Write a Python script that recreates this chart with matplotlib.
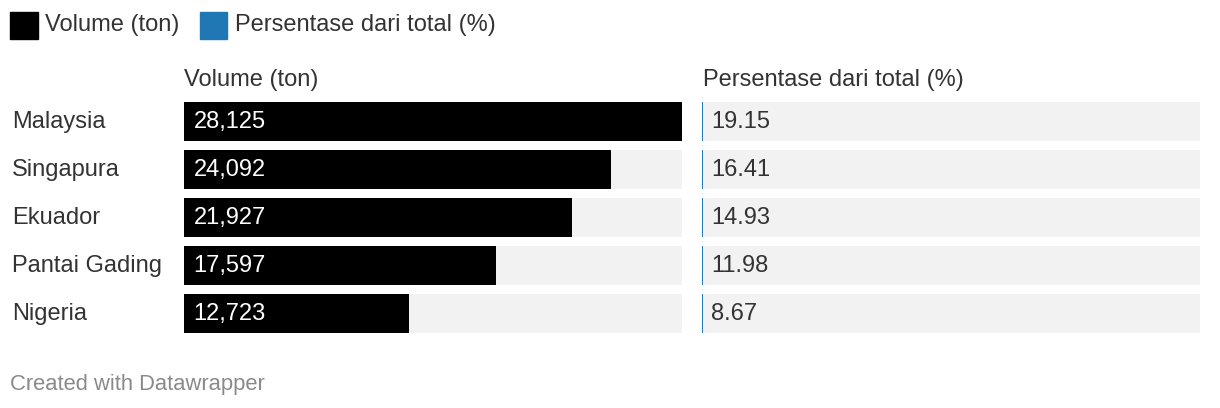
# bar table in the Datawrapper style: volume bars and percentage column

import matplotlib.pyplot as plt

countries = ['Malaysia', 'Singapura', 'Ekuador', 'Pantai Gading', 'Nigeria']
volume = [28125, 24092, 21927, 17597, 12723]
persen = [19.15, 16.41, 14.93, 11.98, 8.67]

vol_label = 'Volume (ton)'
pct_label = 'Persentase dari total (%)'

plt.rcParams['font.family'] = ['Liberation Sans', 'DejaVu Sans']
txt = '#333333'
grey_bg = '#f2f2f2'
blue = '#1f77b4'
W, H = 1220, 408
fs = 17

fig = plt.figure(figsize=(W / 100, H / 100), dpi=100)

def axes_px(x0, x1, y0, y1):
    # pixel box (top-left origin) -> figure axes
    return fig.add_axes([x0 / W, 1 - y1 / H, (x1 - x0) / W, (y1 - y0) / H])

rows = range(len(countries))
vmax = max(volume)
h = 0.81
pad = vmax * 9.5 / 498   # text inset in the bars
base = 6.5 / 48          # baseline below row centre

ax1 = axes_px(184, 682, 97.5, 337.5)
ax1.barh(rows, [vmax] * len(volume), height=h, color=grey_bg)
ax1.barh(rows, volume, height=h, color='black')
for i, v in enumerate(volume):
    ax1.text(pad, i + base, f'{v:,}', color='white', fontsize=fs,
             va='baseline', ha='left')

ax2 = axes_px(702, 1200, 97.5, 337.5)
ax2.barh(rows, [vmax] * len(persen), height=h, color=grey_bg)
# same scale as volume, so the bars are only a thin line
ax2.barh(rows, persen, height=h, color=blue, edgecolor=blue, linewidth=1.4)
for i, p in enumerate(persen):
    ax2.text(pad, i + base, f'{p:.2f}', color=txt, fontsize=fs,
             va='baseline', ha='left')

for ax in (ax1, ax2):
    ax.set_xlim(0, vmax)
    ax.set_ylim(len(countries) - 0.5, -0.5)
    ax.axis('off')

for i, c in enumerate(countries):
    ax1.text(-172 / 498 * vmax, i + base, c, color=txt, fontsize=fs,
             va='baseline', ha='left', clip_on=False)

# column headers
fig.text(184 / W, 1 - 86 / H, vol_label, color=txt, fontsize=fs, va='baseline')
fig.text(703 / W, 1 - 86 / H, pct_label, color=txt, fontsize=fs, va='baseline')

# legend
for x, col, lab in [(10, 'black', vol_label), (200, blue, pct_label)]:
    fig.patches.append(plt.Rectangle((x / W, 1 - 39 / H), 27.5 / W, 27 / H,
                                     color=col, transform=fig.transFigure))
    fig.text((x + 35) / W, 1 - 31 / H, lab, color=txt, fontsize=fs,
             va='baseline')

fig.text(10 / W, 1 - 390 / H, 'Created with Datawrapper', color='#8a8a8a',
         fontsize=15.8, va='baseline')

fig.savefig('out.png', dpi=100)
